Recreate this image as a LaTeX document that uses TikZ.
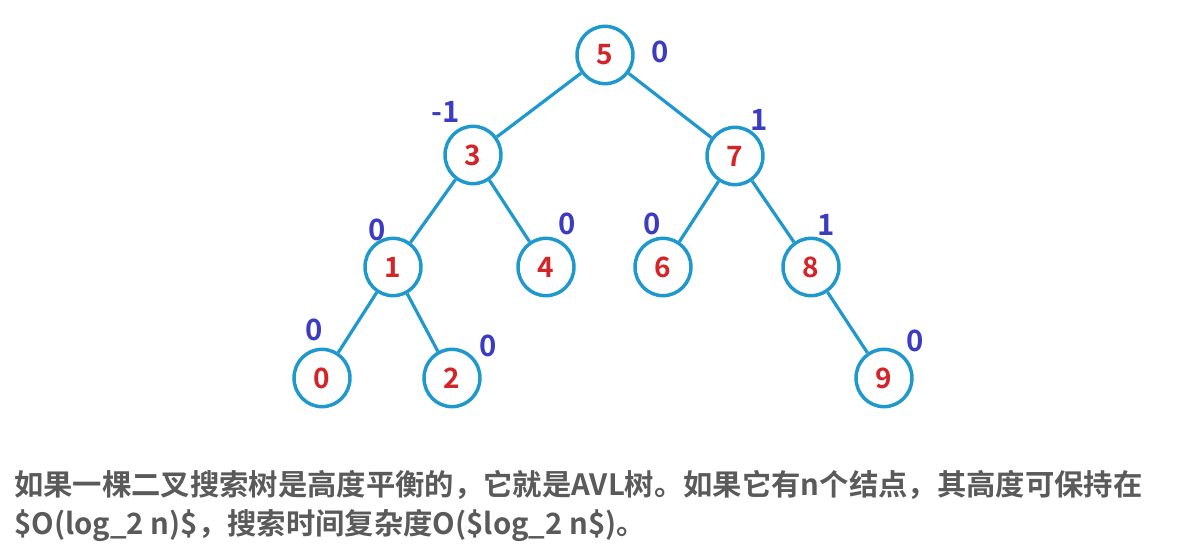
\documentclass[tikz,border=0pt]{standalone}
\usepackage{fontspec}
\newfontfamily\cjk[BoldFont={Noto Sans CJK SC Bold}]{Noto Sans CJK SC}
\usetikzlibrary{shapes.geometric}
\definecolor{ring}{RGB}{30,152,205}
\definecolor{numred}{RGB}{212,36,40}
\definecolor{balblue}{RGB}{60,60,195}
\definecolor{txtgray}{RGB}{90,90,90}
\tikzset{
  treenode/.style={ellipse, draw=ring, line width=2.6pt, fill=white, minimum width=42pt, minimum height=43pt, inner sep=0pt, font=\cjk\bfseries\fontsize{21}{21}\selectfont, text=numred},
  bal/.style={font=\cjk\bfseries\fontsize{22}{22}\selectfont, text=balblue, inner sep=0pt},
  edge/.style={draw=ring, line width=2.4pt},
  caption/.style={anchor=west, font=\cjk\bfseries\fontsize{22}{22}\selectfont, text=txtgray, inner sep=0pt}
}
\begin{document}
\begin{tikzpicture}[x=0.75pt,y=-0.75pt]
\useasboundingbox (0,0) rectangle (1190,555);
\node[treenode] (n5) at (605,55) {5};
\node[treenode] (n3) at (473,155) {3};
\node[treenode] (n7) at (735,156) {7};
\node[treenode] (n1) at (393,267) {1};
\node[treenode] (n4) at (546,267) {4};
\node[treenode] (n6) at (663,267) {6};
\node[treenode] (n8) at (811,267) {8};
\node[treenode] (n0) at (322,378) {0};
\node[treenode] (n2) at (452,378) {2};
\node[treenode] (n9) at (884,378) {9};
\draw[edge] (n5) -- (n3);
\draw[edge] (n5) -- (n7);
\draw[edge] (n3) -- (n1);
\draw[edge] (n3) -- (n4);
\draw[edge] (n7) -- (n6);
\draw[edge] (n7) -- (n8);
\draw[edge] (n1) -- (n0);
\draw[edge] (n1) -- (n2);
\draw[edge] (n8) -- (n9);
\node[bal] (b5) at (660,52) {0};
\node[bal] (b3) at (446,112) {-1};
\node[bal] (b7) at (759,120) {1};
\node[bal] (b1) at (377,230) {0};
\node[bal] (b4) at (567,224) {0};
\node[bal] (b6) at (652,224) {0};
\node[bal] (b8) at (826,225) {1};
\node[bal] (b0) at (314,330) {0};
\node[bal] (b2) at (488,346) {0};
\node[bal] (b9) at (915,341) {0};
\node[caption] (t1) at (14,485) {如果一棵二叉搜索树是高度平衡的，它就是AVL树。如果它有n个结点，其高度可保持在};
\node[caption] (t2) at (14,525) {\$O(log\_2 n)\$，搜索时间复杂度O(\$log\_2 n\$)。};
\end{tikzpicture}
\end{document}
